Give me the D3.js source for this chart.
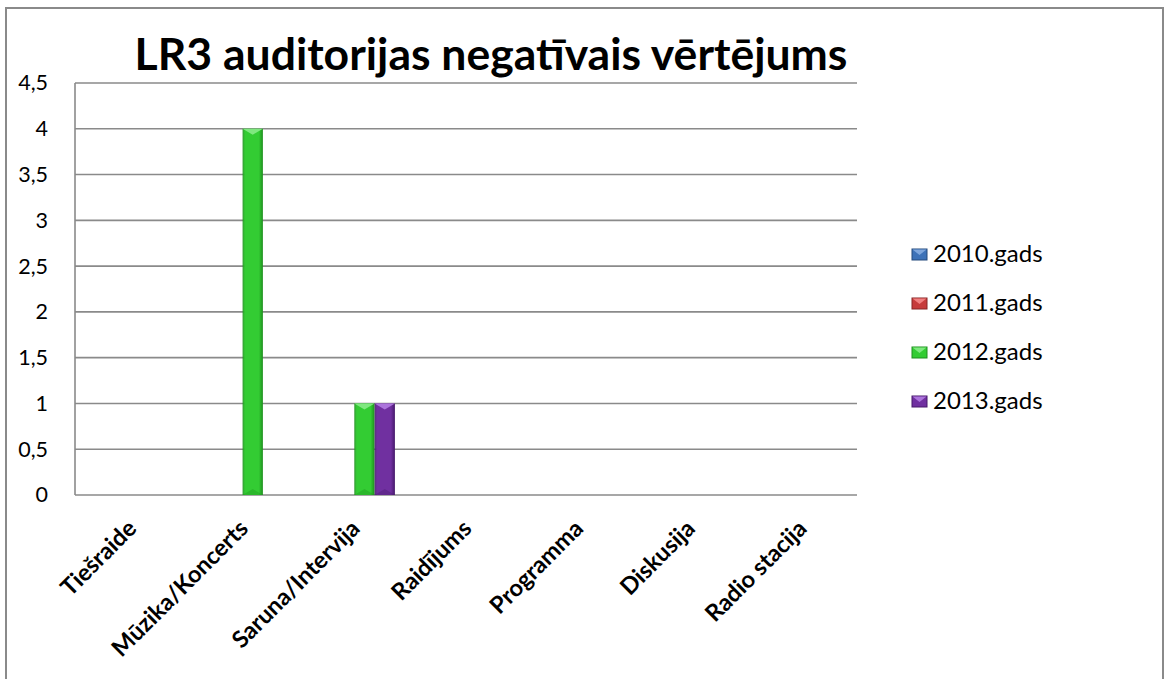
<!DOCTYPE html>
<html><head><meta charset="utf-8">
<script src="https://cdn.jsdelivr.net/npm/d3@7"></script>
<style>html,body{margin:0;padding:0;background:#fff;overflow:hidden}</style>
</head><body>
<svg id="c" width="1164" height="679"></svg>
<script>
const title = "LR3 auditorijas negatīvais vērtējums";
const categories = ["Tiešraide","Mūzika/Koncerts","Saruna/Intervija","Raidījums","Programma","Diskusija","Radio stacija"];
const seriesNames = ["2010.gads","2011.gads","2012.gads","2013.gads"];
const values2010 = [0,0,0,0,0,0,0];
const values2011 = [0,0,0,0,0,0,0];
const values2012 = [0,4,1,0,0,0,0];
const values2013 = [0,0,1,0,0,0,0];
const yTicks = [0,0.5,1,1.5,2,2.5,3,3.5,4,4.5];
const seriesValues = [values2010, values2011, values2012, values2013];
const colors = [
  {main:"#3d72b8", light:"#7ea6dc", dark:"#244a7c"},
  {main:"#c63b3b", light:"#f08080", dark:"#862424"},
  {main:"#33cc33", light:"#7fe87f", dark:"#1e8f1e"},
  {main:"#7030a0", light:"#ac74dc", dark:"#46196a"}
];

const svg = d3.select("#c");
const font = "Lato, 'Open Sans', sans-serif";
const L = 75, R = 857, T = 83, B = 495;

// outer border
svg.append("rect").attr("x",6).attr("y",8).attr("width",1157).attr("height",700)
  .attr("fill","#fff").attr("stroke","#8a8a8a").attr("stroke-width",2);

const x0 = d3.scaleBand().domain(categories).range([L,R]).paddingInner(0).paddingOuter(0);
const bw = x0.bandwidth()/5.5;
const x1 = d3.scaleBand().domain(seriesNames).range([0, bw*4]);
const y = d3.scaleLinear().domain([0,4.5]).range([B,T]);

// defs gradients
const defs = svg.append("defs");
colors.forEach((c,i)=>{
  const g = defs.append("linearGradient").attr("id","g"+i).attr("x1","0").attr("x2","1").attr("y1","0").attr("y2","0");
  g.append("stop").attr("offset","0").attr("stop-color",c.dark).attr("stop-opacity",0.9);
  g.append("stop").attr("offset","0.12").attr("stop-color",c.main);
  g.append("stop").attr("offset","0.8").attr("stop-color",c.main);
  g.append("stop").attr("offset","1").attr("stop-color",c.dark);
});

// gridlines
svg.append("g").selectAll("line").data(yTicks.filter(t=>t>0)).join("line")
  .attr("x1",L).attr("x2",R).attr("y1",d=>y(d)).attr("y2",d=>y(d))
  .attr("stroke","#8a8a8a").attr("stroke-width",1.6);

// y axis
const fmt = d => String(d).replace(".",",");
const yAxis = d3.axisLeft(y).tickValues(yTicks).tickFormat(fmt).tickSize(0).tickPadding(27);
const ya = svg.append("g").attr("transform",`translate(${L},0)`).call(yAxis);
ya.select(".domain").remove();
ya.selectAll("text").attr("font-family",font).attr("font-size",21.5).attr("fill","#000");
svg.append("line").attr("x1",L).attr("x2",L).attr("y1",T).attr("y2",B).attr("stroke","#8a8a8a").attr("stroke-width",1.6);
svg.append("line").attr("x1",L).attr("x2",R).attr("y1",B).attr("y2",B).attr("stroke","#8a8a8a").attr("stroke-width",1.6);

// bars
const barData = [];
categories.forEach((cat,ci)=>{
  seriesNames.forEach((s,si)=>{
    barData.push({cat, s, si, v: seriesValues[si][ci]});
  });
});
const bars = svg.append("g").selectAll("g").data(barData.filter(d=>d.v>0)).join("g")
  .attr("transform",d=>`translate(${x0(d.cat)+x0.bandwidth()/2 - 2*bw + x1(d.s)},0)`);
bars.append("rect").attr("x",0).attr("width",x1.bandwidth())
  .attr("y",d=>y(d.v)).attr("height",d=>y(0)-y(d.v))
  .attr("fill",d=>`url(#g${d.si})`);
bars.append("path").attr("d",d=>{
  const w = x1.bandwidth(), yt = y(d.v);
  return `M0,${yt} L${w},${yt} L${w/2},${yt+6} Z`;
}).attr("fill",d=>colors[d.si].light);
bars.append("path").attr("d",d=>{
  const w = x1.bandwidth(), yb = y(0);
  return `M0,${yb} L${w},${yb} L${w/2},${yb-6} Z`;
}).attr("fill",d=>colors[d.si].dark).attr("opacity",0.35);

// category labels
svg.append("g").selectAll("text").data(categories).join("text")
  .attr("transform",d=>`translate(${x0(d)+x0.bandwidth()/2+7},${530}) rotate(-45)`)
  .attr("text-anchor","end").attr("font-family",font).attr("font-weight","bold")
  .attr("font-size",23.5).attr("fill","#000").text(d=>d);

// title
const tt = svg.append("text").attr("x",491).attr("y",70).attr("text-anchor","middle")
  .attr("font-family",font).attr("font-weight","bold").attr("font-size",40).attr("fill","#000").text(title);
const w = tt.node().getComputedTextLength();
tt.attr("font-size",40*713/w);

// legend
const lg = svg.append("g").selectAll("g").data(seriesNames).join("g")
  .attr("transform",(d,i)=>`translate(912,${254+i*49})`);
lg.append("rect").attr("x",0).attr("y",-5).attr("width",15).attr("height",11)
  .attr("fill",(d,i)=>colors[i].main).attr("stroke",(d,i)=>colors[i].dark).attr("stroke-width",1);
lg.append("path").attr("d","M0.5,-4.5 L14.5,-4.5 L7.5,1 Z").attr("fill",(d,i)=>colors[i].light);
lg.append("text").attr("x",21).attr("y",0).attr("dy","0.35em").attr("font-family",font)
  .attr("font-size",24).attr("fill","#000").text(d=>d);
</script>
</body></html>
